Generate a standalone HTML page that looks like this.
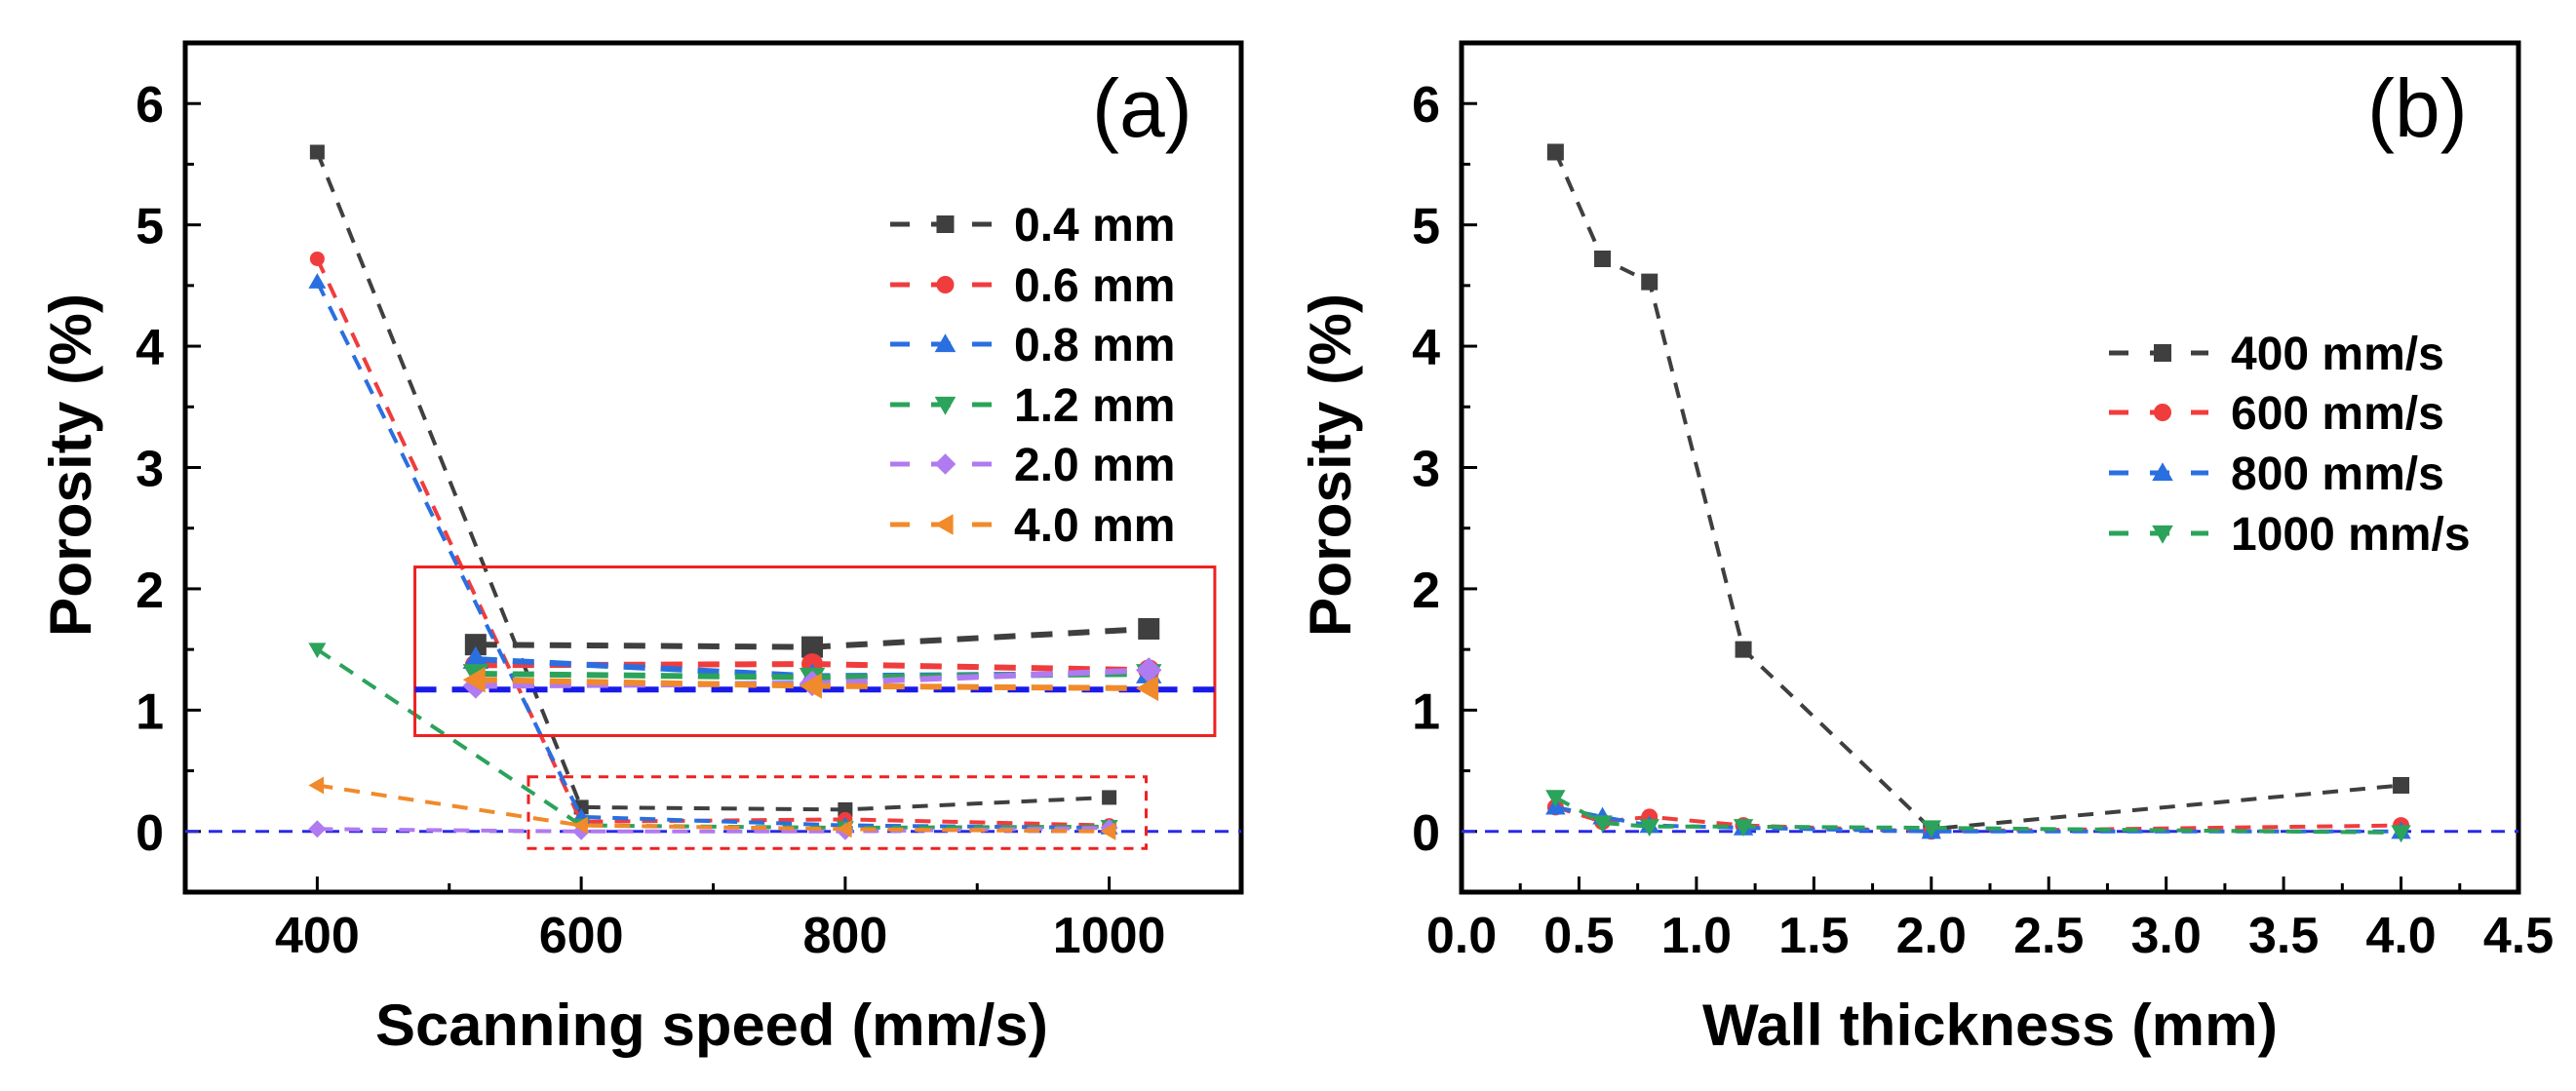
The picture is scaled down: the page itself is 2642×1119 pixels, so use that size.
<!DOCTYPE html>
<html><head><meta charset="utf-8"><style>
html,body{margin:0;padding:0;background:#fff;}
svg{display:block;font-family:"Liberation Sans",Arial,sans-serif;}
</style></head><body>
<svg id="chart" width="2642" height="1119" viewBox="0 0 2642 1119" xmlns="http://www.w3.org/2000/svg"></svg>
<script>
// ---------- Panel (a) data ----------
const speedsA = [400, 600, 800, 1000];
const seriesA_names = ["0.4 mm","0.6 mm","0.8 mm","1.2 mm","2.0 mm","4.0 mm"];
const a_04 = [5.6, 0.2, 0.18, 0.28];
const a_06 = [4.72, 0.08, 0.1, 0.05];
const a_08 = [4.53, 0.12, 0.05, 0.03];
const a_12 = [1.5, 0.05, 0.03, 0.04];
const a_20 = [0.02, 0.0, 0.0, 0.03];
const a_40 = [0.38, 0.05, 0.02, 0.0];
// magnified overlay inside red box
const speedsZoom = [520, 775, 1030];
const z_04 = [1.54, 1.52, 1.67];
const z_06 = [1.37, 1.38, 1.33];
const z_08 = [1.42, 1.28, 1.3];
const z_12 = [1.3, 1.27, 1.3];
const z_20 = [1.2, 1.22, 1.33];
const z_40 = [1.25, 1.2, 1.18];
const xTicksA = [400, 600, 800, 1000];
const yTicks = [0, 1, 2, 3, 4, 5, 6];
// ---------- Panel (b) data ----------
const thick = [0.4, 0.6, 0.8, 1.2, 2.0, 4.0];
const seriesB_names = ["400 mm/s","600 mm/s","800 mm/s","1000 mm/s"];
const b_400 = [5.6, 4.72, 4.53, 1.5, 0.02, 0.38];
const b_600 = [0.2, 0.08, 0.12, 0.05, 0.0, 0.05];
const b_800 = [0.2, 0.12, 0.05, 0.03, 0.0, 0.0];
const b_1000 = [0.28, 0.07, 0.04, 0.04, 0.03, -0.01];
const xTicksB = ["0.0","0.5","1.0","1.5","2.0","2.5","3.0","3.5","4.0","4.5"];

const colors = ["#3f3f3f","#f03c3c","#2a6fe0","#2ba35a","#b07af0","#f08a2a"];
const shapes = ["sq","ci","tu","td","di","tl"];
const NS = "http://www.w3.org/2000/svg";
const svg = document.getElementById("chart");
function mk(tag, attrs, parent){const e=document.createElementNS(NS,tag);for(const k in attrs)e.setAttribute(k,attrs[k]);(parent||svg).appendChild(e);return e;}

const plotTop=44, plotBot=915;
function yS(v){return plotBot-(v+0.5)/7*(plotBot-plotTop);}
const A={l:190,r:1273}, B={l:1499,r:2583};
function xA(v){return A.l+(v-300)/800*(A.r-A.l);}
function xB(v){return B.l+v/4.5*(B.r-B.l);}

function marker(g,shape,cx,cy,s,col){
  let e;
  if(shape==="sq") e=mk("rect",{x:cx-s/2,y:cy-s/2,width:s,height:s,fill:col},g);
  else if(shape==="ci") e=mk("circle",{cx:cx,cy:cy,r:s/2,fill:col},g);
  else if(shape==="tu") e=mk("polygon",{points:`${cx},${cy-s*0.6} ${cx-s*0.6},${cy+s*0.45} ${cx+s*0.6},${cy+s*0.45}`,fill:col},g);
  else if(shape==="td") e=mk("polygon",{points:`${cx},${cy+s*0.6} ${cx-s*0.6},${cy-s*0.45} ${cx+s*0.6},${cy-s*0.45}`,fill:col},g);
  else if(shape==="di") e=mk("polygon",{points:`${cx},${cy-s*0.6} ${cx+s*0.6},${cy} ${cx},${cy+s*0.6} ${cx-s*0.6},${cy}`,fill:col},g);
  else e=mk("polygon",{points:`${cx-s*0.6},${cy} ${cx+s*0.45},${cy-s*0.6} ${cx+s*0.45},${cy+s*0.6}`,fill:col},g);
  
  
}
function series(name,xs,ys,xf,col,shape,lw,dash,ms){
  const g=mk("g",{});
  
  
  const pts=xs.map((x,i)=>xf(x)+","+yS(ys[i])).join(" ");
  mk("polyline",{points:pts,fill:"none",stroke:col,"stroke-width":lw,"stroke-dasharray":dash},g);
  xs.forEach((x,i)=>marker(g,shape,xf(x),yS(ys[i]),ms,col));
}
function axes(P,xf,ticks,tickVals,minorVals,name){
  const g=mk("g",{});
  
  
  yTicks.forEach(v=>{
    mk("line",{x1:P.l,x2:P.l+16,y1:yS(v),y2:yS(v),stroke:"#000","stroke-width":3},g);
    const t=mk("text",{x:P.l-22,y:yS(v)+19,"text-anchor":"end","font-size":52,"font-weight":"bold"},g);t.textContent=v;
    
    
  });
  for(let v=-0.5;v<=6.5;v+=1) mk("line",{x1:P.l,x2:P.l+9,y1:yS(v),y2:yS(v),stroke:"#000","stroke-width":3},g);
  tickVals.forEach((v,i)=>{
    mk("line",{x1:xf(v),x2:xf(v),y1:plotBot,y2:plotBot-16,stroke:"#000","stroke-width":3},g);
    const t=mk("text",{x:xf(v),y:977,"text-anchor":"middle","font-size":52,"font-weight":"bold"},g);t.textContent=ticks[i];
    
    
  });
  minorVals.forEach(v=>mk("line",{x1:xf(v),x2:xf(v),y1:plotBot,y2:plotBot-9,stroke:"#000","stroke-width":3},g));
  mk("rect",{x:P.l,y:plotTop,width:P.r-P.l,height:plotBot-plotTop,fill:"none",stroke:"#000","stroke-width":5},g);
}
function legend(names,x1,x2,tx,ys,fs){
  const g=mk("g",{});
  
  
  names.forEach((n,i)=>{
    const e=mk("g",{},g);
    
    
    mk("line",{x1:x1,x2:x2,y1:ys[i],y2:ys[i],stroke:colors[i],"stroke-width":5,"stroke-dasharray":"20 22"},e);
    marker(e,shapes[i],(x1+x2)/2+4,ys[i],18,colors[i]);
    const t=mk("text",{x:tx,y:ys[i]+17,"font-size":fs,"font-weight":"bold"},e);t.textContent=n;
  });
}

// ----- Panel A -----
axes(A,xA,xTicksA.map(String),xTicksA,[300,500,700,900,1100],"axes-a");
const zl=mk("line",{x1:A.l,x2:A.r,y1:yS(0),y2:yS(0),stroke:"#2a2ae8","stroke-width":3,"stroke-dasharray":"14 10"});


const dataA=[a_04,a_06,a_08,a_12,a_20,a_40];
const dataZ=[z_04,z_06,z_08,z_12,z_20,z_40];
dataA.forEach((d,i)=>series("series-a-"+seriesA_names[i].replace(/[ .]/g,''),speedsA,d,xA,colors[i],shapes[i],4,"16 12",15));
const rb=mk("rect",{x:xA(474),y:yS(2.18),width:xA(1080)-xA(474),height:yS(0.79)-yS(2.18),fill:"none",stroke:"#f02020","stroke-width":3});


const db=mk("rect",{x:xA(560),y:yS(0.45),width:xA(1028)-xA(560),height:yS(-0.14)-yS(0.45),fill:"none",stroke:"#f02020","stroke-width":3,"stroke-dasharray":"10 8"});


const bl=mk("line",{x1:xA(474),x2:xA(1080),y1:yS(1.17),y2:yS(1.17),stroke:"#1a1ae8","stroke-width":6,"stroke-dasharray":"22 16"});


dataZ.forEach((d,i)=>series("zoom-series-"+seriesA_names[i].replace(/[ .]/g,''),speedsZoom,d,xA,colors[i],shapes[i],6,"22 16",22));
legend(seriesA_names,913,1018,1040,[230,292,353,415,476,538],48);
let t=mk("text",{x:1120,y:140,"font-size":84});t.textContent="(a)";

t=mk("text",{x:730,y:1072,"text-anchor":"middle","font-size":60,"font-weight":"bold",textLength:690,lengthAdjust:"spacingAndGlyphs"});t.textContent="Scanning speed (mm/s)";

t=mk("text",{x:0,y:0,"text-anchor":"middle","font-size":60,"font-weight":"bold",textLength:352,lengthAdjust:"spacingAndGlyphs",transform:"translate(93,477) rotate(-90)"});t.textContent="Porosity (%)";


// ----- Panel B -----
axes(B,xB,xTicksB,xTicksB.map(Number),[0.25,0.75,1.25,1.75,2.25,2.75,3.25,3.75,4.25],"axes-b");
const zl2=mk("line",{x1:B.l,x2:B.r,y1:yS(0),y2:yS(0),stroke:"#2a2ae8","stroke-width":3,"stroke-dasharray":"14 10"});


const dataB=[b_400,b_600,b_800,b_1000];
const bshapes=["sq","ci","tu","td"];
dataB.forEach((d,i)=>series("series-b-"+seriesB_names[i].replace(/[ /]/g,''),thick,d,xB,colors[i],bshapes[i],4,"16 12",17));
legend(seriesB_names,2163,2265,2288,[362,423,485,547],48);
t=mk("text",{x:2428,y:140,"font-size":84});t.textContent="(b)";

t=mk("text",{x:2041,y:1072,"text-anchor":"middle","font-size":60,"font-weight":"bold",textLength:590,lengthAdjust:"spacingAndGlyphs"});t.textContent="Wall thickness (mm)";

t=mk("text",{x:0,y:0,"text-anchor":"middle","font-size":60,"font-weight":"bold",textLength:352,lengthAdjust:"spacingAndGlyphs",transform:"translate(1385,477) rotate(-90)"});t.textContent="Porosity (%)";

</script>
</body></html>
